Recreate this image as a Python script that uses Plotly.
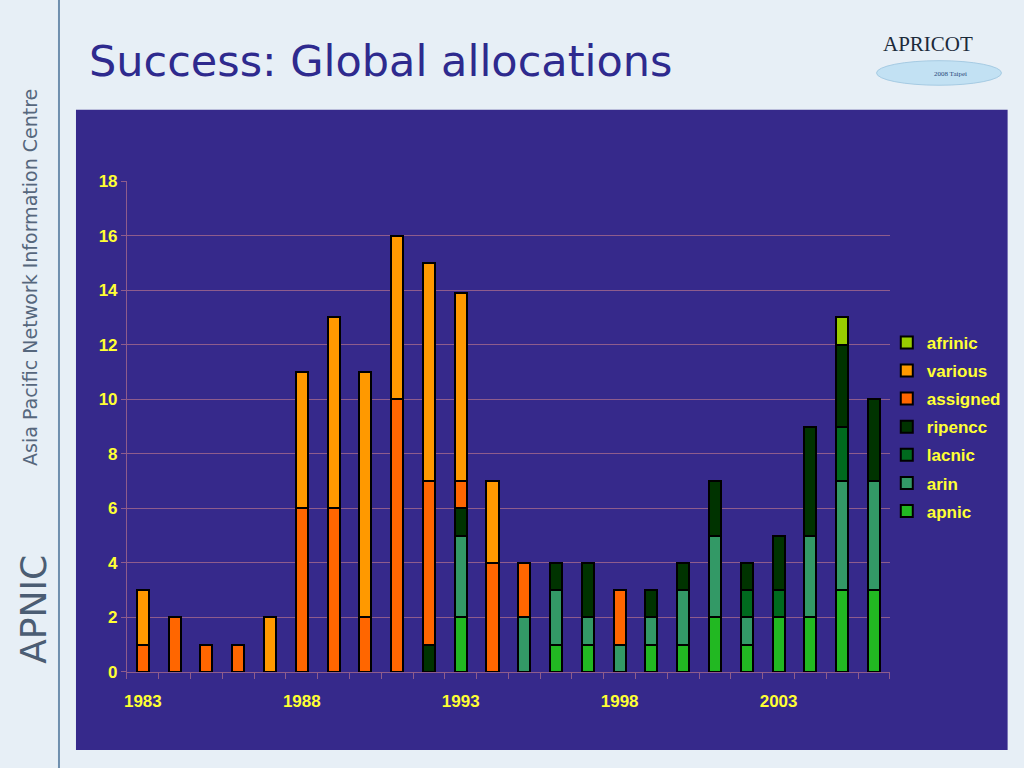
import plotly.graph_objects as go

# allocations per year
years = list(range(1983, 2007))
apnic = [0, 0, 0, 0, 0, 0, 0, 0, 0, 0, 2, 0, 0, 1, 1, 0, 1, 1, 2, 1, 2, 2, 3, 3]
arin = [0, 0, 0, 0, 0, 0, 0, 0, 0, 0, 3, 0, 2, 2, 1, 1, 1, 2, 3, 1, 0, 3, 4, 4]
lacnic = [0, 0, 0, 0, 0, 0, 0, 0, 0, 0, 0, 0, 0, 0, 0, 0, 0, 0, 0, 1, 1, 0, 2, 0]
ripencc = [0, 0, 0, 0, 0, 0, 0, 0, 0, 1, 1, 0, 0, 1, 2, 0, 1, 1, 2, 1, 2, 4, 3, 3]
assigned = [1, 2, 1, 1, 0, 6, 6, 2, 10, 6, 1, 4, 2, 0, 0, 2, 0, 0, 0, 0, 0, 0, 0, 0]
various = [2, 0, 0, 0, 2, 5, 7, 9, 6, 8, 6.9, 3, 0, 0, 0, 0, 0, 0, 0, 0, 0, 0, 0, 0]
afrinic = [0, 0, 0, 0, 0, 0, 0, 0, 0, 0, 0, 0, 0, 0, 0, 0, 0, 0, 0, 0, 0, 0, 1, 0]

year_ticks = [1983, 1988, 1993, 1998, 2003]
y_ticks = list(range(0, 19, 2))

series = [
    ("apnic", apnic, "#22b822"),
    ("arin", arin, "#339966"),
    ("lacnic", lacnic, "#006a1e"),
    ("ripencc", ripencc, "#003300"),
    ("assigned", assigned, "#ff6600"),
    ("various", various, "#ff9900"),
    ("afrinic", afrinic, "#99cc00"),
]

BG = "#e7eff6"
PANEL = "#36298b"
GRID = "#8e5c8c"
YELLOW = "#ffff33"

fig = go.Figure()
for i, (name, vals, color) in enumerate(series):
    fig.add_trace(go.Bar(
        x=years,
        y=[v if v else None for v in vals],  # skip empty segments
        name=name,
        legendgroup=name,
        legendrank=100 * (len(series) - i),  # afrinic first, apnic last
        width=0.38,
        marker=dict(color=color, line=dict(color="black", width=2)),
    ))

fig.update_layout(
    barmode="stack",
    width=1024,
    height=768,
    margin=dict(l=0, r=0, t=0, b=0, autoexpand=False),
    paper_bgcolor=BG,
    plot_bgcolor="rgba(0,0,0,0)",
    font=dict(family="Liberation Sans, Arial, sans-serif"),
    showlegend=True,
    legend=dict(
        x=0.866, y=0.577, xanchor="left", yanchor="top",
        traceorder="grouped",
        tracegroupgap=3,
        bgcolor="rgba(0,0,0,0)",
        font=dict(color=YELLOW, size=17, weight="bold"),
        itemwidth=30,
    ),
    xaxis=dict(
        domain=[0.124, 0.869],
        range=[1982.5, 2006.5],
        tickvals=year_ticks,
        # long major ticks in the panel colour push the year labels down;
        # the visible marks are the minor ticks between the bars
        ticks="outside",
        ticklen=14,
        tickcolor=PANEL,
        tickfont=dict(color=YELLOW, size=17, weight="bold"),
        showgrid=False,
        zeroline=False,
        showline=True,
        linecolor=GRID,
        linewidth=1,
        minor=dict(tick0=1982.5, dtick=1, ticks="outside", ticklen=6, tickcolor=GRID, showgrid=False),
    ),
    yaxis=dict(
        domain=[0.125, 0.7643],
        range=[0, 18],
        tickvals=y_ticks,
        ticks="outside",
        ticklen=5,
        tickcolor=GRID,
        tickfont=dict(color=YELLOW, size=17, weight="bold"),
        showgrid=True,
        gridcolor=GRID,
        gridwidth=1,
        zeroline=False,
        showline=True,
        linecolor=GRID,
        linewidth=1,
    ),
)

# dark chart panel, side strip and slide decorations
fig.add_shape(type="rect", xref="paper", yref="paper", x0=0.0742, x1=0.984, y0=0.0234, y1=0.857,
              fillcolor=PANEL, line=dict(width=0), layer="below")
fig.add_shape(type="line", xref="paper", yref="paper", x0=0.0576, x1=0.0576, y0=0, y1=1,
              line=dict(color="#6f8fae", width=2))
fig.add_shape(type="circle", xref="paper", yref="paper", x0=0.856, x1=0.978, y0=0.889, y1=0.921,
              fillcolor="#c2e1f3", line=dict(color="#a6cbe3", width=1), layer="below")

fig.add_annotation(text="Success: Global allocations", xref="paper", yref="paper",
                   x=0.085, y=0.921, xanchor="left", yanchor="middle", showarrow=False,
                   font=dict(size=43, color="#2e2a8e", family="DejaVu Sans, sans-serif"))
fig.add_annotation(text="APRICOT", xref="paper", yref="paper", x=0.906, y=0.943,
                   xanchor="center", yanchor="middle", showarrow=False,
                   font=dict(size=21, color="#1b2a3a", family="Liberation Serif, serif"))
fig.add_annotation(text="2008 Taipei", xref="paper", yref="paper", x=0.928, y=0.903,
                   xanchor="center", yanchor="middle", showarrow=False,
                   font=dict(size=7, color="#2a4a7a", family="Liberation Serif, serif"))
fig.add_annotation(text="Asia Pacific Network Information Centre", xref="paper", yref="paper",
                   x=0.030, y=0.639, xanchor="center", yanchor="middle", textangle=-90, showarrow=False,
                   font=dict(size=19, color="#56677d", family="DejaVu Sans, sans-serif"))
fig.add_annotation(text="APNIC", xref="paper", yref="paper",
                   x=0.032, y=0.207, xanchor="center", yanchor="middle", textangle=-90, showarrow=False,
                   font=dict(size=36, color="#4b5d73", family="DejaVu Sans, sans-serif"))

# let the 1024x768 figure fill the window exactly
page_css = (
    "var s=document.createElement('style');"
    "s.textContent='html,body{margin:0;padding:0;overflow:hidden;background:%s}"
    ".plotly-graph-div{display:block}';"
    "document.head.appendChild(s);" % BG
)
fig.write_html("out.html", config={"displayModeBar": False}, post_script=page_css)
